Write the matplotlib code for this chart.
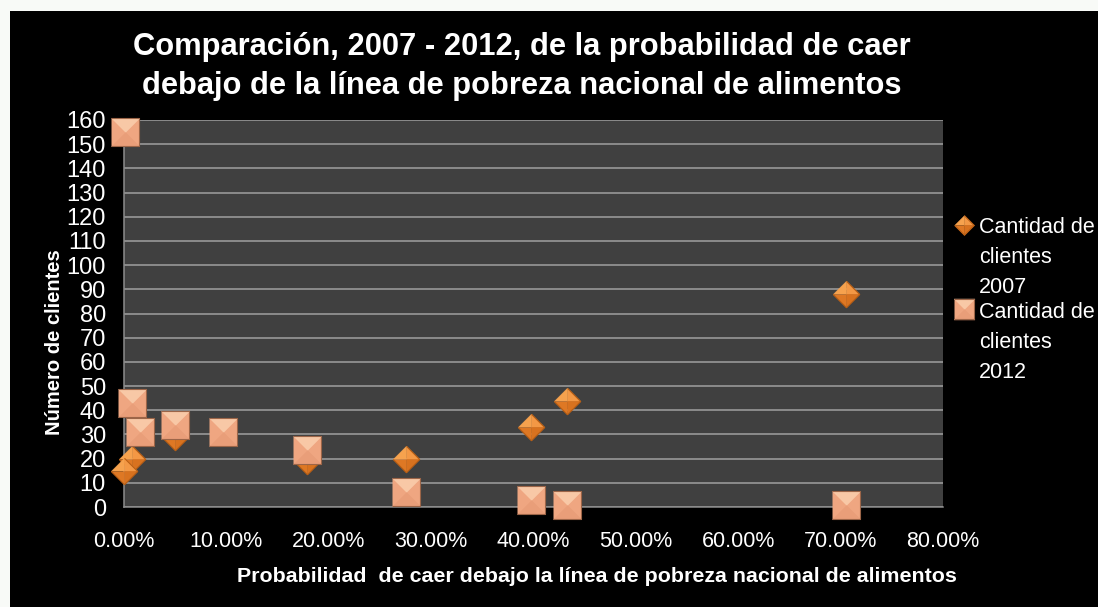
"""Scatter: probabilidad de caer debajo de la línea de pobreza, 2007 vs 2012."""

import matplotlib

matplotlib.use("Agg")
import matplotlib.pyplot as plt
from matplotlib.legend_handler import HandlerTuple
from matplotlib.lines import Line2D
from matplotlib.patches import Rectangle
from matplotlib.ticker import MultipleLocator, PercentFormatter

# probability of falling below the line (as fraction) and number of clients
prob_2007 = [0.705, 0.433, 0.398, 0.275, 0.179, 0.050, 0.008, 0.000]
clients_2007 = [88, 44, 33, 20, 19, 29, 20, 15]

prob_2012 = [0.705, 0.433, 0.398, 0.275, 0.179, 0.097, 0.050, 0.016, 0.008, 0.001]
clients_2012 = [1, 1, 3, 6, 23.5, 31, 34, 31, 43, 155]

series_labels = ["Cantidad de\nclientes\n2007", "Cantidad de\nclientes\n2012"]
title = ("Comparación, 2007 - 2012, de la probabilidad de caer\n"
         "debajo de la línea de pobreza nacional de alimentos")
xlabel = "Probabilidad  de caer debajo la línea de pobreza nacional de alimentos"
ylabel = "Número de clientes"

FONT = ["Liberation Sans", "DejaVu Sans"]

# pyramid-like marker faces: (vertices, facecolor)
DIAMOND_FACES = [
    ([(-1, 0), (0, 1), (0, 0)], "#f6a24e"),
    ([(0, 1), (1, 0), (0, 0)], "#f39845"),
    ([(-1, 0), (0, -1), (0, 0)], "#de7824"),
    ([(0, -1), (1, 0), (0, 0)], "#d8721f"),
]
DIAMOND_EDGE = [(0, 1), (1, 0), (0, -1), (-1, 0)]
SQUARE_FACES = [
    ([(-1, -1), (1, -1), (1, 1), (-1, 1)], "#efa681"),
    ([(-1, 1), (1, 1), (0, 0)], "#f8c8a6"),
    ([(-1, -1), (1, -1), (0, 0)], "#e99e79"),
]
SQUARE_EDGE = [(-1, -1), (1, -1), (1, 1), (-1, 1)]


def draw_pyramids(ax, xs, ys, faces, edge, size, edgecolor, zorder):
    for x, y in zip(xs, ys):
        for verts, color in faces:
            ax.plot([x], [y], linestyle="none", marker=verts, markersize=size,
                    markerfacecolor=color, markeredgecolor=color,
                    markeredgewidth=0.4, clip_on=False, zorder=zorder)
        ax.plot([x], [y], linestyle="none", marker=edge, markersize=size,
                markerfacecolor="none", markeredgecolor=edgecolor,
                markeredgewidth=0.8, clip_on=False, zorder=zorder)


def proxy(faces, edge, size, edgecolor):
    parts = [Line2D([], [], linestyle="none", marker=v, markersize=size,
                    markerfacecolor=c, markeredgecolor=c, markeredgewidth=0.4)
             for v, c in faces]
    parts.append(Line2D([], [], linestyle="none", marker=edge, markersize=size,
                        markerfacecolor="none", markeredgecolor=edgecolor,
                        markeredgewidth=0.8))
    return tuple(parts)


fig = plt.figure(figsize=(10.98, 6.07), dpi=100, facecolor="#f8faf7")
fig.patches.append(Rectangle((10 / 1098, 0), 1, 1 - 11 / 607,
                             transform=fig.transFigure, facecolor="black",
                             edgecolor="none", zorder=-5))

ax = fig.add_axes([124 / 1098, 1 - 507 / 607, 819 / 1098, 387 / 607])
ax.set_facecolor("#404040")
ax.set_xlim(0, 0.8)
ax.set_ylim(0, 160)
ax.xaxis.set_major_locator(MultipleLocator(0.1))
ax.xaxis.set_major_formatter(PercentFormatter(xmax=1, decimals=2))
ax.yaxis.set_major_locator(MultipleLocator(10))
ax.set_axisbelow(True)
ax.grid(axis="y", color="#a0a0a0", linewidth=1.1)
for side in ("top", "right"):
    ax.spines[side].set_visible(False)
for side in ("left", "bottom"):
    ax.spines[side].set_color("#8c8c8c")
    ax.spines[side].set_linewidth(1.1)
ax.tick_params(axis="both", length=0, colors="white")
ax.tick_params(axis="x", pad=17, labelsize=15.5)
ax.tick_params(axis="y", pad=13, labelsize=17)
for lab in ax.get_xticklabels() + ax.get_yticklabels():
    lab.set_family(FONT)

draw_pyramids(ax, prob_2007, clients_2007, DIAMOND_FACES, DIAMOND_EDGE,
              19, "#b85e14", 3)
draw_pyramids(ax, prob_2012, clients_2012, SQUARE_FACES, SQUARE_EDGE,
              19.5, "#9c6548", 4)

fig.text(522 / 1098, 1 - 66.5 / 607, title, ha="center", va="center",
         color="white", fontsize=22.2, fontweight="bold", family=FONT,
         linespacing=1.35)
fig.text(597 / 1098, 1 - 577 / 607, xlabel, ha="center", va="center",
         color="white", fontsize=15.4, fontweight="bold", family=FONT)
fig.text(55 / 1098, 1 - 342 / 607, ylabel, ha="center", va="center",
         rotation=90, color="white", fontsize=14.5, fontweight="bold",
         family=FONT)

handles = [proxy(DIAMOND_FACES, DIAMOND_EDGE, 14, "#b85e14"),
           proxy(SQUARE_FACES, SQUARE_EDGE, 15, "#9c6548")]
leg = fig.legend(handles, series_labels, loc="upper left",
                 bbox_to_anchor=(955 / 1098, 1 - 217 / 607), frameon=False,
                 handler_map={tuple: HandlerTuple(ndivide=1)},
                 prop={"family": FONT, "size": 15.5}, labelcolor="white",
                 handlelength=0.8, handletextpad=0.3, labelspacing=0.2,
                 borderpad=0, borderaxespad=0)
for text in leg.get_texts():
    text.set_linespacing(1.55)
for column in leg._legend_handle_box.get_children():
    for row in column.get_children():
        row.align = "top"

fig.savefig("out.png", dpi=100, facecolor=fig.get_facecolor())
